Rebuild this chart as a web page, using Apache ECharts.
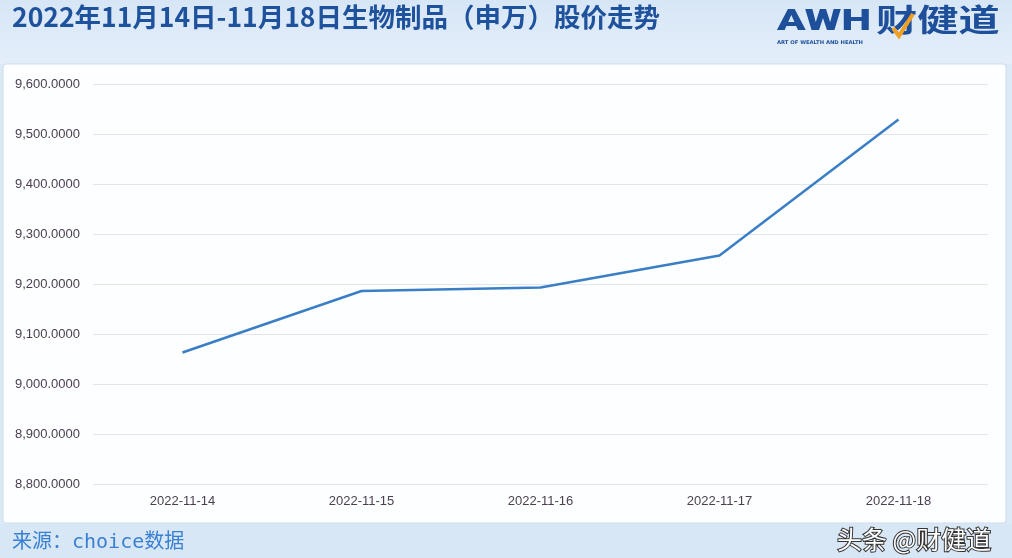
<!DOCTYPE html>
<html>
<head>
<meta charset="utf-8">
<script src="https://cdn.jsdelivr.net/npm/echarts@6/dist/echarts.min.js"></script>
<style>
html,body{margin:0;padding:0;background:#dce9f7;}
#chart{width:1012px;height:558px;}
</style>
</head>
<body>
<div id="chart"></div>
<script>
var categories = ['2022-11-14','2022-11-15','2022-11-16','2022-11-17','2022-11-18'];
var prices = [9063, 9186, 9193, 9257, 9529];
var titleText = '2022年11月14日-11月18日生物制品（申万）股价走势';
var sourceText = '来源：choice数据';
var watermarkText = '头条 @财健道';

var chart = echarts.init(document.getElementById('chart'));
chart.setOption({
  backgroundColor: '#dce9f7',
  animation: false,
  graphic: [
    { type: 'rect', z: -10, shape: {x: 0, y: 0, width: 1012, height: 64},
      style: {fill: new echarts.graphic.LinearGradient(0,0,0,1,[{offset:0,color:'#d7e6f6'},{offset:1,color:'#e4eefa'}])} },
    { type: 'rect', z: -9, shape: {x: 3, y: 64, width: 1003, height: 459, r: 3},
      style: {fill: '#fdfeff', stroke: '#cddcec', lineWidth: 1} },
    { type: 'rect', z: -10, shape: {x: 0, y: 524, width: 1012, height: 34},
      style: {fill: '#d8e7f6'} },
    { type: 'text', left: 12, top: 4,
      style: {text: titleText, fill: '#1f529c', fontSize: 26.5, fontWeight: 'bold', fontFamily: 'Noto Sans CJK SC'} },
    { type: 'text', x: 777, y: 8, scaleX: 1.45,
      style: {text: 'AWH', fill: '#1d4f9a', fontSize: 29, fontWeight: 900, fontFamily: 'Roboto'} },
    { type: 'text', x: 876, y: 4, scaleX: 1.33,
      style: {text: '财健道', fill: '#1d4f9a', fontSize: 31, fontWeight: 'bold', fontFamily: 'Noto Sans CJK SC'} },
    { type: 'polyline', shape: {points: [[893, 28], [899, 36], [913, 14]]},
      style: {stroke: '#f0a020', lineWidth: 4, fill: null} },
    { type: 'text', x: 777, y: 40, scaleX: 1.05,
      style: {text: 'ART OF WEALTH AND HEALTH', fill: '#1d4f9a', fontSize: 5, fontWeight: 'bold', fontFamily: 'DejaVu Sans'} },
    { type: 'text', left: 12, top: 533,
      style: {text: sourceText, fill: '#3a80d2', fontSize: 20, fontFamily: "'DejaVu Sans Mono', 'Noto Sans CJK SC'"} },
    { type: 'text', left: 836, top: 526,
      style: {text: watermarkText, fill: '#ffffff', stroke: '#333333', lineWidth: 2, fontSize: 25, fontFamily: 'Noto Sans CJK SC'} }
  ],
  grid: {left: 93, right: 24, top: 84, bottom: 74, containLabel: false},
  xAxis: {
    type: 'category',
    data: categories,
    boundaryGap: true,
    axisLine: {show: false},
    axisTick: {show: false},
    axisLabel: {color: '#4a3f4f', fontSize: 13, margin: 11, fontFamily: 'Liberation Sans'}
  },
  yAxis: {
    type: 'value',
    min: 8800, max: 9600, interval: 100,
    axisLine: {show: false},
    axisTick: {show: false},
    splitLine: {lineStyle: {color: '#e2e6ec', width: 1}},
    axisLabel: {
      color: '#4a3f4f', fontSize: 13, margin: 13, fontFamily: 'Liberation Sans',
      formatter: function (v) {
        return v.toLocaleString('en-US', {minimumFractionDigits: 4, maximumFractionDigits: 4});
      }
    }
  },
  series: [{
    type: 'line',
    data: prices,
    showSymbol: false,
    symbol: 'none',
    lineStyle: {color: '#3a7fc6', width: 2.5}
  }]
});
</script>
</body>
</html>
